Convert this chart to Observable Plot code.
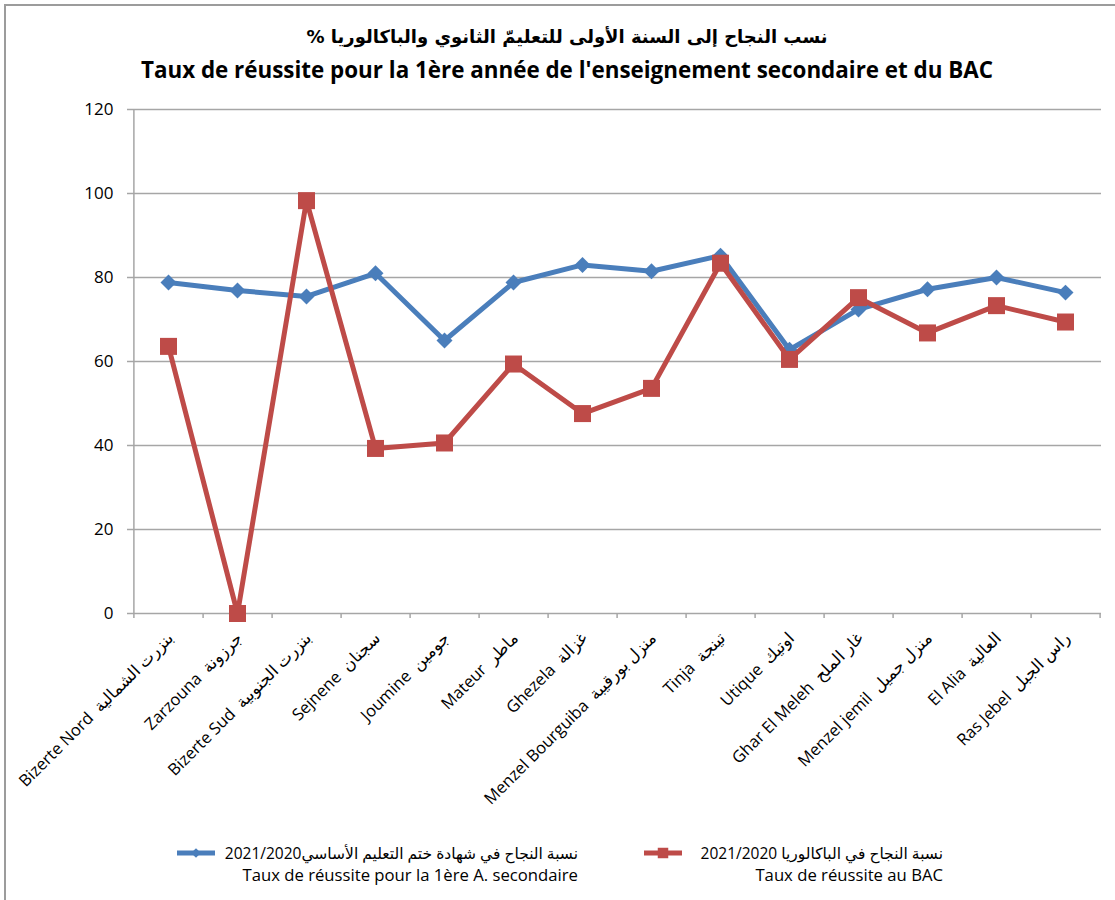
<!DOCTYPE html>
<html>
<head>
<meta charset="utf-8">
<script src="https://cdn.jsdelivr.net/npm/d3@7"></script>
<script src="https://cdn.jsdelivr.net/npm/@observablehq/plot@0.6"></script>
<style>
  html, body { margin: 0; padding: 0; background: #fff; }
  #wrap { position: relative; width: 1115px; height: 900px; overflow: hidden; font-family: 'Open Sans', 'DejaVu Sans', sans-serif; color: #000; }
  #frame { position: absolute; left: 4px; top: 4px; width: 1200px; height: 1000px; border: 2px solid #9c9c9c; box-sizing: border-box; }
  .title { position: absolute; left: 67px; width: 1000px; text-align: center; font-weight: bold; white-space: nowrap; }
  #chart { position: absolute; left: 0; top: 0; }
  #chart svg g[aria-label="y-axis tick"] path { stroke: #a6a6a6; stroke-width: 1.5; }
  .legtext { position: absolute; text-align: right; font-size: 16.7px; line-height: 22px; white-space: nowrap; }
  .legtext .ar { font-size: 15.5px; }
  .swatch { position: absolute; }
</style>
</head>
<body>
<div id="wrap">
  <div id="frame"></div>
  <div class="title" id="t1" dir="rtl" style="top:20px; font-size:18px; line-height:33px; font-family:'DejaVu Sans', sans-serif;"></div>
  <div class="title" id="t2" style="top:53px; font-size:22.4px; line-height:33px; font-family:'Open Sans', sans-serif;"></div>
  <div id="chart"></div>
  <svg class="swatch" id="sw1" style="left:174px; top:843px;" width="44" height="20"></svg>
  <div class="legtext" id="lg1" style="left:200px; width:378px; top:842px;"></div>
  <svg class="swatch" id="sw2" style="left:641px; top:843px;" width="44" height="20"></svg>
  <div class="legtext" id="lg2" style="left:683px; width:260px; top:842px;"></div>
</div>
<script>
// ---- data ----
const titleAr = "نسب النجاح إلى السنة الأولى للتعليمّ الثانوي والباكالوريا %";
const titleFr = "Taux de réussite pour la 1ère année de l'enseignement secondaire et du BAC";
const categories = [
  "Bizerte Nord  بنزرت الشمالية",
  "Zarzouna  جرزونة",
  "Bizerte Sud  بنزرت الجنوبية",
  "Sejnene  سجنان",
  "Joumine  جومين",
  "Mateur  ماطر",
  "Ghezela  غزالة",
  "Menzel Bourguiba  منزل بورقيبة",
  "Tinja  تينجة",
  "Utique  اوتيك",
  "Ghar El Meleh  غار الملح",
  "Menzel jemil  منزل جميل",
  "El Alia  العالية",
  "Ras Jebel  راس الجبل"
];
const successFirstYear = [78.8, 76.9, 75.5, 81.0, 65.0, 78.8, 83.0, 81.5, 85.2, 62.8, 72.4, 77.2, 80.0, 76.4];
const successBac = [63.6, 0, 98.3, 39.3, 40.6, 59.4, 47.6, 53.6, 83.4, 60.5, 75.2, 66.8, 73.3, 69.4];
const yTicks = [0, 20, 40, 60, 80, 100, 120];
const seriesNames = [
  ["نسبة النجاح في شهادة ختم التعليم الأساسي2021/2020", "Taux de réussite pour la 1ère A. secondaire"],
  ["نسبة النجاح في الباكالوريا 2021/2020", "Taux de réussite au BAC"]
];

// ---- styles ----
const blue = "#4A7EBB";
const red = "#BE4B48";
const grid = "#a6a6a6";

document.getElementById("t1").textContent = titleAr;
document.getElementById("t2").textContent = titleFr;

const W = 1115, H = 900;
const mL = 132, mR = 14, mT = 109, mB = 287;
const step = (W - mL - mR) / categories.length;
const rows = categories.map((c, i) => ({cat: c, first: successFirstYear[i], bac: successBac[i]}));

const chart = Plot.plot({
  width: W, height: H,
  marginLeft: mL, marginRight: mR, marginTop: mT, marginBottom: mB,
  style: {fontFamily: "'Open Sans', 'DejaVu Sans', sans-serif", fontSize: "17px", color: "#000", background: "transparent", overflow: "visible"},
  x: {type: "point", domain: categories, padding: 0.5, axis: null},
  y: {domain: [0, 120], ticks: yTicks, tickSize: 5, tickPadding: 14, label: null, tickFormat: d => String(d)},
  marks: [
    Plot.ruleY(yTicks, {stroke: grid, strokeWidth: 1.5}),
    Plot.ruleX([categories[0]], {x: d => d, dx: -step / 2, stroke: grid, strokeWidth: 1.5}),
    Plot.ruleX(categories, {x: d => d, y1: 0, y2: 0, dx: step / 2, insetBottom: -5, stroke: grid, strokeWidth: 1.5}),
    Plot.ruleX([categories[0]], {x: d => d, y1: 0, y2: 0, dx: -step / 2, insetBottom: -5, stroke: grid, strokeWidth: 1.5}),
    Plot.line(rows, {x: "cat", y: "first", stroke: blue, strokeWidth: 5}),
    Plot.dot(rows, {x: "cat", y: "first", symbol: d3.symbolDiamond2, r: 7.2, fill: blue}),
    Plot.line(rows, {x: "cat", y: "bac", stroke: red, strokeWidth: 5}),
    Plot.dot(rows, {x: "cat", y: "bac", symbol: d3.symbolSquare, r: 9.6, fill: red}),
    Plot.text(categories, {x: d => d, frameAnchor: "bottom", dy: 22, dx: 2, rotate: -45, textAnchor: "end", lineAnchor: "middle", fontSize: 16.5, fill: "#000"})
  ]
});
document.getElementById("chart").appendChild(chart);

// ---- legend ----
document.getElementById("lg1").innerHTML = `<div class="ar" dir="rtl">${seriesNames[0][0]}</div><div>${seriesNames[0][1]}</div>`;
document.getElementById("lg2").innerHTML = `<div class="ar" dir="rtl">${seriesNames[1][0]}</div><div>${seriesNames[1][1]}</div>`;
function swatch(id, color, sym, size) {
  const s = d3.select("#" + id);
  s.append("line").attr("x1", 3).attr("x2", 41).attr("y1", 10).attr("y2", 10).attr("stroke", color).attr("stroke-width", 5);
  s.append("path").attr("d", d3.symbol(sym, size)()).attr("transform", "translate(22,10)").attr("fill", color);
}
swatch("sw1", blue, d3.symbolDiamond2, 60);
swatch("sw2", red, d3.symbolSquare, 110);
</script>
</body>
</html>
